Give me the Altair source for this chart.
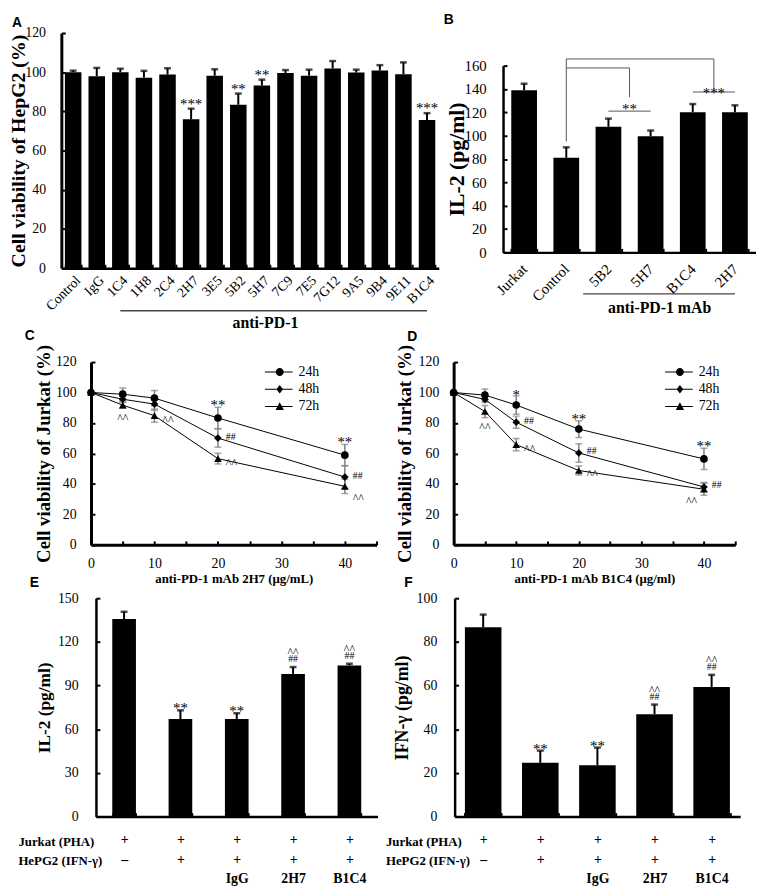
import altair as alt
import pandas as pd

SERIF = "Liberation Serif"
SANS = "Liberation Sans"
TICK = 4
GREY = "#808080"
FS = {"*": 15, "**": 15, "***": 15, "##": 10, "^^": 12}

# ---------------- Panel A data ----------------
a_names = ["Control", "IgG", "1C4", "1H8", "2C4", "2H7", "3E5", "5B2", "5H7",
           "7C9", "7E5", "7G12", "9A5", "9B4", "9E11", "B1C4"]
a_vals = [100.0, 98.0, 100.0, 97.2, 98.8, 76.0, 98.2, 83.4, 93.2,
          99.6, 98.2, 101.9, 99.8, 100.9, 99.0, 75.6]
a_errs = [0.8, 4.2, 1.8, 3.5, 3.2, 5.4, 3.3, 5.7, 3.0,
          1.5, 3.1, 3.8, 1.5, 2.7, 6.0, 3.5]
a_sig = ["", "", "", "", "", "***", "", "**", "**", "", "", "", "", "", "", "***"]
a_group = ["1C4", "B1C4"]
a_group_label = "anti-PD-1"

# ---------------- Panel B data ----------------
b_names = ["Jurkat", "Control", "5B2", "5H7", "B1C4", "2H7"]
b_vals = [139.0, 81.0, 107.6, 99.4, 120.1, 120.0]
b_errs = [5.5, 9.0, 7.0, 5.0, 7.0, 6.0]
b_cmp_ref = "Control"
b_cmp_pairs = [["5B2", "5H7"], ["B1C4", "2H7"]]
b_cmp_top = [158.0, 165.7]
b_cmp_drop = [133.0, 139.0]
b_cmp_start = 95.0
b_cmp_sig_y = [121.0, 137.4]
b_cmp_sig = ["**", "***"]
b_group = ["5B2", "2H7"]
b_group_label = "anti-PD-1 mAb"

# ---------------- Panels C / D data ----------------
doses = [0, 5, 10, 20, 40]
series = ["24h", "48h", "72h"]
c_24 = [100, 98.9, 96.3, 83.3, 58.9]
c_48 = [100, 95.6, 92.4, 70.1, 44.5]
c_72 = [100, 91.7, 84.8, 56.6, 38.4]
c_24_err = [0, 4, 5, 7, 7]
c_48_err = [0, 2, 4, 6, 7.5]
c_72_err = [0, 2, 4.3, 3.5, 4.7]
c_note_series = ["72h", "72h", "24h", "48h", "72h", "24h", "48h", "72h"]
c_note_dose = [5, 10, 20, 20, 20, 40, 40, 40]
c_note_text = ["^^", "^^", "**", "##", "^^", "**", "##", "^^"]
c_note_place = ["below", "right", "above", "right", "right", "above", "right", "rightlow"]

d_24 = [100, 98.3, 91.8, 76.0, 56.4]
d_48 = [100, 95.5, 80.5, 60.3, 38.0]
d_72 = [100, 87.5, 65.8, 48.8, 36.5]
d_24_err = [0, 4, 6, 5.5, 7]
d_48_err = [0, 2, 4, 6, 3]
d_72_err = [0, 4, 4, 3, 4]
d_note_series = ["24h", "48h", "72h", "72h", "24h", "48h", "72h", "24h", "48h", "72h"]
d_note_dose = [10, 10, 5, 10, 20, 20, 20, 40, 40, 40]
d_note_text = ["*", "##", "^^", "^^", "**", "##", "^^", "**", "##", "^^"]
d_note_place = ["above", "right", "below", "right", "above", "right", "right", "above", "right", "leftlow"]

# ---------------- Panels E / F data ----------------
jurkat_row = ["+", "+", "+", "+", "+"]
hepg2_row = ["\u2013", "+", "+", "+", "+"]
ab_row = ["", "", "IgG", "2H7", "B1C4"]
e_vals = [135.7, 67.0, 67.0, 98.0, 103.8]
e_errs = [5.0, 6.0, 4.0, 4.7, 1.2]
f_vals = [86.7, 24.6, 23.5, 46.9, 59.3]
f_errs = [5.8, 5.6, 8.1, 4.4, 5.6]
sig1 = ["", "**", "**", "##", "##"]
sig2 = ["", "", "", "^^", "^^"]
row_titles = ["Jurkat (PHA)", "HePG2 (IFN-\u03b3)"]

# legend glyphs: a short line with the marker on it
LINE = "M-3.75,-0.13H3.25V0.13H-3.75Z"
LEG_PATHS = [
    LINE + "M1,0A1,1,0,1,1,-1,0A1,1,0,1,1,1,0Z",
    LINE + "M0,-1.1L0.85,0L0,1.1L-0.85,0Z",
    LINE + "M0,-1.05L1.05,0.85L-1.05,0.85Z",
]


# ---------------- helpers ----------------
def left_axis(title, values, plot_w, axis_x, title_dist, title_y, title_fs, label_fs, label_gap, domain_w=2.5):
    return alt.Axis(
        orient="right", offset=axis_x - plot_w, values=values, tickCount=50, grid=False,
        domain=True, domainColor="black", domainWidth=domain_w,
        ticks=True, tickColor="black", tickWidth=2, tickSize=TICK,
        labelFont=SERIF, labelFontSize=label_fs, labelColor="black",
        labelAlign="right", labelBaseline="middle", labelPadding=-(TICK + label_gap),
        labelFlush=False, labelOverlap=False,
        title=title, titleFont=SERIF, titleFontSize=title_fs, titleFontWeight="bold",
        titleColor="black", titleAngle=270, titleX=-title_dist, titleY=title_y,
        titleAlign="center", titleBaseline="middle")


def bottom_axis(plot_h, label_gap, label_fs, title, title_x, title_y, title_fs, **kw):
    opts = dict(
        orient="top", offset=-plot_h, grid=False,
        domain=True, domainColor="black", domainWidth=2.5,
        ticks=True, tickColor="black", tickWidth=2, tickSize=TICK,
        labelFont=SERIF, labelFontSize=label_fs, labelColor="black",
        labelPadding=-(TICK + label_gap), labelBaseline="top",
        labelFlush=False, labelOverlap=False,
        title=title, titleFont=SERIF, titleFontSize=title_fs, titleFontWeight="bold",
        titleColor="black", titleX=title_x, titleY=title_y)
    opts.update(kw)
    return alt.Axis(**opts)


def letter(t, dx, dy):
    return alt.TitleParams(text=t, anchor="start", frame="group", orient="top", dx=dx, dy=dy, offset=0,
                           font=SANS, fontSize=14, fontWeight="bold", color="black",
                           baseline="alphabetic")


# ---------------- Panel A ----------------
WA, HA = 382, 238
dfA = pd.DataFrame({"name": a_names, "v": a_vals, "e": a_errs, "sig": a_sig})
dfA["hi"] = dfA["v"] + dfA["e"]
xA = alt.X("name:N", sort=a_names,
           scale=alt.Scale(type="band", paddingInner=0.3, paddingOuter=0.15),
           axis=bottom_axis(HA, 5, 14, a_group_label, 206, 55, 16, labelAngle=315, labelAlign="right",
                            tickBand="extent", titleAlign="center", titleBaseline="middle"))
yA = alt.Y("v:Q", scale=alt.Scale(domain=[0, 120], nice=False, zero=True),
           axis=left_axis("Cell viability of HepG2 (%)", list(range(0, 121, 20)), WA, 0, 43, HA / 2, 20, 14, 16,
                          domain_w=3))
xa = alt.X("name:N", sort=a_names)
baseA = alt.Chart(dfA)
innerA = alt.layer(
    baseA.mark_bar(color="black").encode(x=xA, y=yA),
    baseA.mark_rule(color="black", strokeWidth=2).encode(x=xa, y="v:Q", y2="hi:Q"),
    baseA.mark_tick(color="black", thickness=2.5, size=7, orient="horizontal").encode(x=xa, y="hi:Q"),
    baseA.mark_text(font=SERIF, fontSize=15, baseline="alphabetic", dy=0, color="black").encode(
        x=xa, y="hi:Q", text="sig:N"),
)
ovA = pd.DataFrame({"x1": [a_names.index(a_group[0])], "x2": [a_names.index(a_group[1])]})
lineA = alt.Chart(ovA).mark_rule(color="#444444", strokeWidth=1.5, yOffset=43).encode(
    x=alt.X("x1:Q", scale=alt.Scale(domain=[-0.5, len(a_names) - 0.5], nice=False, zero=False), axis=None),
    x2="x2:Q", y=alt.datum(0))
panelA = alt.layer(innerA, lineA).resolve_scale(x="independent").properties(
    width=WA, height=HA, title=letter("A", -50, 15))

# ---------------- Panel B ----------------
WB, HB, TOPB = 256, 222, 33
dfB = pd.DataFrame({"name": b_names, "v": b_vals, "e": b_errs})
dfB["hi"] = dfB["v"] + dfB["e"]
xB = alt.X("name:N", sort=b_names,
           scale=alt.Scale(type="band", paddingInner=0.39, paddingOuter=0.195),
           axis=bottom_axis(HB, 14, 15, b_group_label, 158, 56, 16, labelAngle=315, labelAlign="right",
                            labelBaseline="middle", tickBand="extent", titleAlign="center",
                            titleBaseline="middle"))
yB = alt.Y("v:Q", scale=alt.Scale(domain=[0, 160], nice=False, zero=True, range=[HB, TOPB]),
           axis=left_axis("IL-2 (pg/ml)", list(range(0, 161, 20)), WB, 0, 47, (HB + TOPB) / 2, 22, 15, 17))
xb = alt.X("name:N", sort=b_names)
baseB = alt.Chart(dfB)
innerB = alt.layer(
    baseB.mark_bar(color="black").encode(x=xB, y=yB),
    baseB.mark_rule(color="black", strokeWidth=2).encode(x=xb, y="v:Q", y2="hi:Q"),
    baseB.mark_tick(color="black", thickness=2.5, size=7, orient="horizontal").encode(x=xb, y="hi:Q"),
)
ib = {n: i for i, n in enumerate(b_names)}
r0 = ib[b_cmp_ref]
sx, sx2, sy, sy2 = [r0], [r0], [b_cmp_start], [max(b_cmp_top)]
tx, ty, tt = [], [], []
for (p, q), top, drop, sgy, sg in zip(b_cmp_pairs, b_cmp_top, b_cmp_drop, b_cmp_sig_y, b_cmp_sig):
    m = (ib[p] + ib[q]) / 2
    sx += [r0, m, ib[p]]
    sx2 += [m, m, ib[q]]
    sy += [top, drop, sgy]
    sy2 += [top, top, sgy]
    tx.append(m)
    ty.append(sgy)
    tt.append(sg)
segB = pd.DataFrame({"x": sx, "x2": sx2, "y": sy, "y2": sy2})
txtB = pd.DataFrame({"x": tx, "y": ty, "t": tt})
ovx = alt.X("x:Q", scale=alt.Scale(domain=[-0.5, len(b_names) - 0.5], nice=False, zero=False), axis=None)
ovB = alt.layer(
    alt.Chart(segB).mark_rule(color="#555555", strokeWidth=1).encode(
        x=ovx, x2="x2:Q", y="y:Q", y2="y2:Q"),
    alt.Chart(txtB).transform_filter("datum.t == '**'").mark_text(
        font=SERIF, fontSize=15, baseline="alphabetic", dy=3, color="black").encode(
        x="x:Q", y="y:Q", text="t:N"),
    alt.Chart(txtB).transform_filter("datum.t == '***'").mark_text(
        font=SERIF, fontSize=15, baseline="alphabetic", dy=6, color="black").encode(
        x="x:Q", y="y:Q", text="t:N"),
    alt.Chart(pd.DataFrame({"x": [ib[b_group[0]] - 0.6], "x2": [ib[b_group[1]]]})).mark_rule(
        color="#444444", strokeWidth=1.5, yOffset=42).encode(x="x:Q", x2="x2:Q", y=alt.datum(0)),
)
panelB = alt.layer(innerB, ovB).resolve_scale(x="independent").properties(
    width=WB, height=HB, title=letter("B", -60, 5))


# ---------------- Panels C / D ----------------
PL = {
    "above": ("hi", "center", 0, {"**": 3, "*": 4}),
    "right": ("v", "left", 8, {"##": 1.5, "^^": 8}),
    "below": ("lo", "center", 0, {"^^": 14}),
    "rightlow": ("lo", "left", 8, {"^^": 9}),
    "leftlow": ("lo", "right", -7, {"^^": 10}),
}


def dose_panel(vals, errs, ns, nd, nt, npl, xtitle, W, H, ax, tdist, lt, ldx, ldy, legx):
    recs = []
    for s in series:
        for d, v, e in zip(doses, vals[s], errs[s]):
            recs.append(dict(series=s, dose=d, v=v, e=e, lo=v - e, hi=v + e))
    df = pd.DataFrame(recs)
    xs = alt.X("dose:Q")
    x = alt.X("dose:Q", scale=alt.Scale(domain=[0, 45], range=[ax, W], nice=False, zero=False),
              axis=bottom_axis(H, 12, 14, xtitle, ax + (W - ax) / 2, 34, 13,
                               values=list(range(0, 46, 5)), tickCount=50,
                               labelExpr="datum.value % 10 == 0 ? datum.label : ''",
                               labelAlign="center", titleAlign="center", titleBaseline="middle",
                               domainWidth=3))
    y = alt.Y("lo:Q", scale=alt.Scale(domain=[0, 120], nice=False, zero=True),
              axis=left_axis("Cell viability of Jurkat (%)", list(range(0, 121, 20)), W, ax, tdist, H / 2,
                             19, 14, 15, domain_w=3))
    base = alt.Chart(df)
    errd = base.transform_filter("datum.e > 0")
    layers = [
        errd.mark_rule(color=GREY, strokeWidth=1.5).encode(x=x, y=y, y2="hi:Q"),
        errd.mark_tick(color=GREY, thickness=1.5, size=7, orient="horizontal").encode(x=xs, y="hi:Q"),
        errd.mark_tick(color=GREY, thickness=1.5, size=7, orient="horizontal").encode(x=xs, y="lo:Q"),
        base.mark_line(color="black", strokeWidth=1).encode(x=xs, y="v:Q", detail="series:N", order="dose:Q"),
        base.mark_point(filled=True, color="black", size=60, opacity=1).encode(
            x=xs, y="v:Q",
            shape=alt.Shape("series:N", scale=alt.Scale(domain=series, range=["circle", "diamond", "triangle-up"]),
                            legend=None)),
    ]
    notes = pd.DataFrame({"series": ns, "dose": nd, "text": nt, "place": npl}).merge(df, on=["series", "dose"])
    for (pl, tx_), sub in notes.groupby(["place", "text"]):
        yf, al, dx, dys = PL[pl]
        layers.append(alt.Chart(sub.reset_index(drop=True)).mark_text(
            font=SERIF, fontSize=FS[tx_], align=al, baseline="alphabetic", dx=dx, dy=dys[tx_], color="black"
        ).encode(x=xs, y=f"{yf}:Q", text="text:N"))
    layers.append(base.transform_filter("false").mark_point(
        filled=True, fill="black", stroke="black", strokeWidth=1, size=64, opacity=1).encode(
        shape=alt.Shape("series:N", scale=alt.Scale(domain=series, range=LEG_PATHS),
                        legend=alt.Legend(orient="none", legendX=legx, legendY=3, title=None,
                                          symbolSize=64, symbolFillColor="black", symbolStrokeColor="black",
                                          symbolStrokeWidth=1, labelFont=SERIF, labelFontSize=14,
                                          labelColor="black", labelOffset=12, rowPadding=3.5, padding=0))))
    return alt.layer(*layers).resolve_scale(shape="independent").properties(
        width=W, height=H, title=letter(lt, ldx, ldy))


panelC = dose_panel({"24h": c_24, "48h": c_48, "72h": c_72}, {"24h": c_24_err, "48h": c_48_err, "72h": c_72_err},
                    c_note_series, c_note_dose, c_note_text, c_note_place,
                    "anti-PD-1 mAb 2H7 (\u03bcg/mL)", 319, 185, 30, 47.5, "C", -37, 9.5, 214)
panelD = dose_panel({"24h": d_24, "48h": d_48, "72h": d_72}, {"24h": d_24_err, "48h": d_48_err, "72h": d_72_err},
                    d_note_series, d_note_dose, d_note_text, d_note_place,
                    "anti-PD-1 mAb B1C4 (\u03bcg/ml)", 285, 185, 0, 50, "D", -47, 10.5, 222)


# ---------------- Panels E / F ----------------
def cyto_panel(vals, errs, ytitle, ymax, ystep, W, H, ax, pi, tdist, tfs, rowx, lt, ldx, ldy, dys):
    keys = ["|".join(t) for t in zip(jurkat_row, hepg2_row, ab_row)]
    df = pd.DataFrame({"key": keys, "v": vals, "e": errs, "s1": sig1, "s2": sig2})
    df["hi"] = df["v"] + df["e"]
    x = alt.X("key:N", sort=keys,
              scale=alt.Scale(type="band", range=[ax, W], paddingInner=pi, paddingOuter=pi / 2),
              axis=bottom_axis(H, 16, 14, row_titles, rowx, 19, 13,
                               labelExpr="split(datum.label, '|')", labelAlign="center", labelAngle=0,
                               labelLineHeight=20, labelFontWeight="bold", tickBand="extent",
                               titleAlign="left", titleBaseline="top", titleLineHeight=20, titleAngle=0))
    y = alt.Y("v:Q", scale=alt.Scale(domain=[0, ymax], nice=False, zero=True),
              axis=left_axis(ytitle, list(range(0, ymax + 1, ystep)), W, ax, tdist, H / 2, tfs, 14, 18))
    xk = alt.X("key:N", sort=keys)
    base = alt.Chart(df)
    layers = [
        base.mark_bar(color="black").encode(x=x, y=y),
        base.mark_rule(color="black", strokeWidth=2).encode(x=xk, y="v:Q", y2="hi:Q"),
        base.mark_tick(color="black", thickness=2.5, size=7, orient="horizontal").encode(x=xk, y="hi:Q"),
    ]
    for col in ["s1", "s2"]:
        for t in sorted(set(df[col]) - {""}):
            layers.append(base.transform_filter(alt.FieldEqualPredicate(field=col, equal=t)).mark_text(
                font=SERIF, fontSize=FS[t], baseline="alphabetic", dy=dys[t], color="black"
            ).encode(x=xk, y="hi:Q", text=f"{col}:N"))
    return alt.layer(*layers).properties(width=W, height=H, title=letter(lt, ldx, ldy))


panelE = cyto_panel(e_vals, e_errs, "IL-2 (pg/ml)", 150, 30, 320, 221, 35, 0.58, 52.5, 17.5, -44, "E", -32, 9.5,
                    {"**": 3, "##": -5, "^^": -11})
panelF = cyto_panel(f_vals, f_errs, "IFN-\u03b3 (pg/ml)", 100, 20, 289, 221, 0, 0.36, 53, 18, -70, "F", -51, 9.5,
                    {"**": 3, "##": -5, "^^": -10.5})

row1 = alt.hconcat(panelA, panelB, spacing=5)
row2 = alt.hconcat(panelC, panelD, spacing=17)
row3 = alt.hconcat(panelE, panelF, spacing=8)
lower = alt.vconcat(row2, row3, spacing=-10)
chart = (alt.vconcat(row1, lower, spacing=-2)
         .properties(padding=0)
         .configure_view(stroke=None)
         .configure_axis(labelOverlap=False))

chart.save("out.html", embed_options={"renderer": "svg", "actions": False})
